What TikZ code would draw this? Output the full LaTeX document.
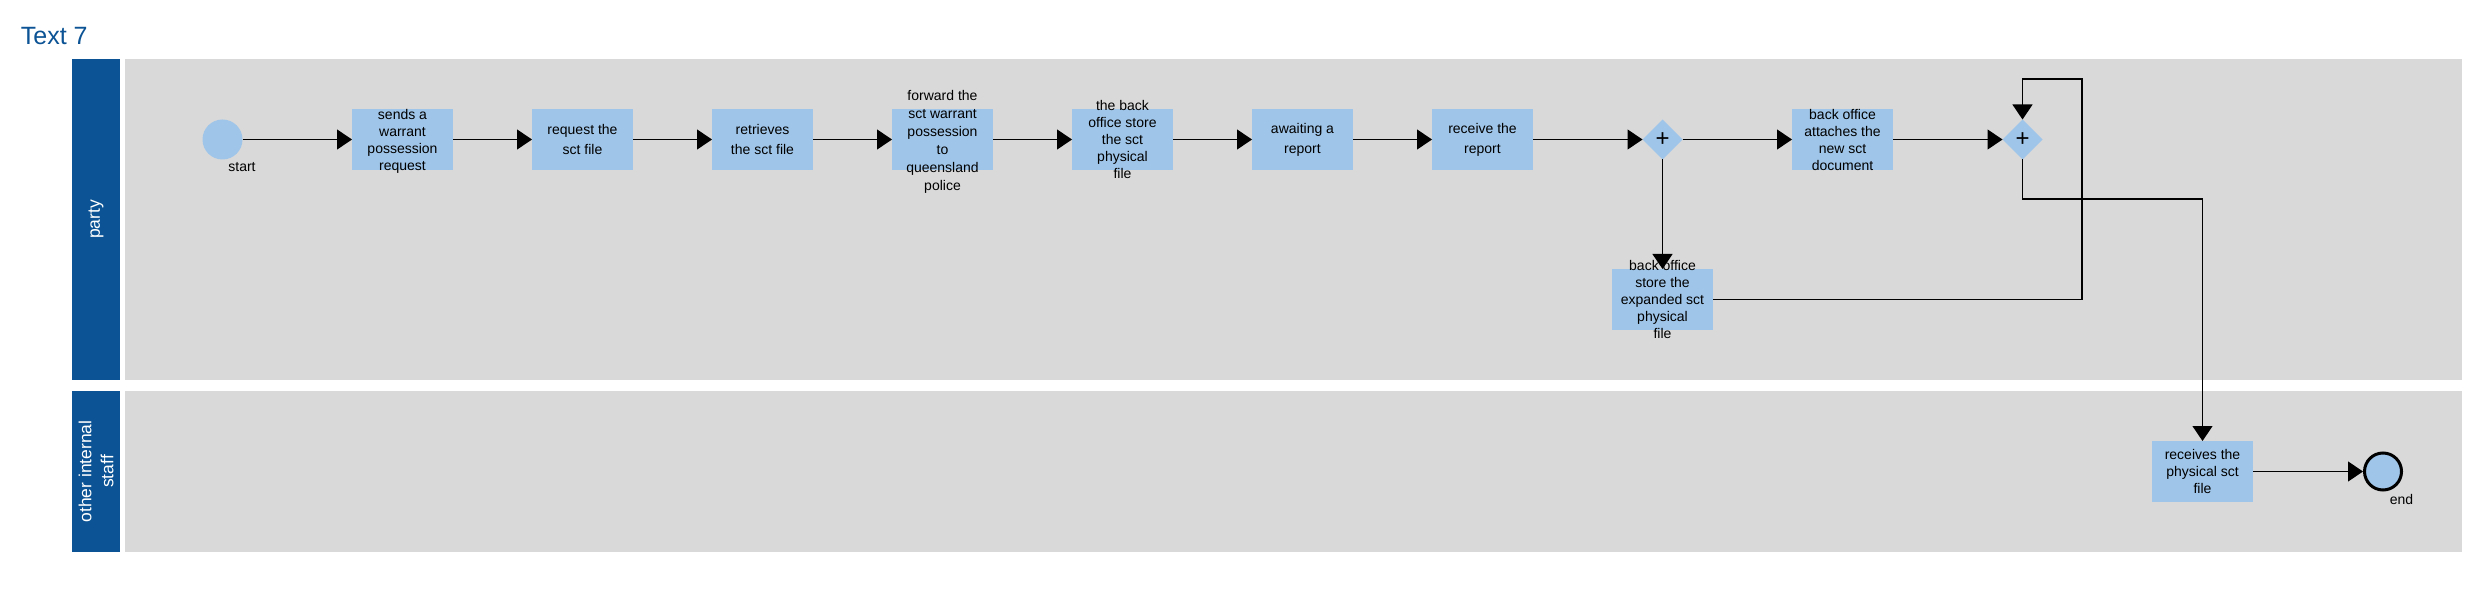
\documentclass[tikz,border=0pt]{standalone}
\usepackage{fontspec}
\setmainfont{Liberation Sans}
\usetikzlibrary{shapes.geometric,arrows.meta}
\definecolor{laneblue}{RGB}{11,83,148}
\definecolor{lanegray}{RGB}{217,217,217}
\definecolor{taskblue}{RGB}{159,197,232}
\tikzset{
  taskbox/.style={fill=taskblue, minimum width=50.5pt, minimum height=30.5pt, inner sep=0pt, outer sep=0pt},
  tasktext/.style={align=center, inner sep=0pt, text=black, font=\fontsize{7}{8.5}\selectfont},
  tasktextwide/.style={tasktext, font=\fontsize{7}{10}\selectfont},
  tasktextmid/.style={tasktext, font=\fontsize{7}{9}\selectfont},
  gw/.style={diamond, fill=taskblue, minimum width=20pt, minimum height=20pt, inner sep=0pt, outer sep=0pt, aspect=1, font=\fontsize{12}{12}\selectfont},
  flow/.style={draw=black, line width=0.55pt, -{Triangle[length=7.5pt,width=10pt]}},
  lanelabel/.style={rotate=90, text=white, align=center, inner sep=0pt, font=\fontsize{8.75}{11}\selectfont},
  evlabel/.style={anchor=base, inner sep=0pt, text=black, font=\fontsize{7}{8.5}\selectfont},
}
\begin{document}
\begin{tikzpicture}[x=0.5pt, y=-0.5pt]
  \useasboundingbox[fill=white] (0,0) rectangle (2479,593);
  % title
  \node[anchor=base west, inner sep=0pt, text=laneblue, font=\fontsize{12.5}{15}\selectfont] (title) at (20.5,44.3) {Text 7};
  % lanes
  \fill[laneblue] (72,59) rectangle (120,380);
  \fill[lanegray] (125,59) rectangle (2462,380);
  \fill[laneblue] (72,391) rectangle (120,552);
  \fill[lanegray] (125,391) rectangle (2462,552);
  \node[lanelabel] (lane1) at (96,219.5) {party};
  \node[lanelabel] (lane2) at (96,471.5) {other internal\\staff};
  % events
  \node[circle, fill=taskblue, minimum size=20pt, inner sep=0pt, outer sep=0pt] (start) at (222.5,139.5) {};
  \node[evlabel] (startl) at (242,172) {start};
  \node[circle, draw=black, line width=1.5pt, fill=taskblue, minimum size=18.5pt, inner sep=0pt] (end) at (2383,471.5) {};
  \node[evlabel] (endl) at (2401.5,504) {end};
  % tasks
  \node[taskbox] (t1) at (402.5,139.5) {};
  \node[tasktext] (t1x) at (402.5,141.5) {sends a\\warrant\\possession\\request};
  \node[taskbox] (t2) at (582.5,139.5) {};
  \node[tasktextwide] (t2x) at (t2) {request the\\sct file};
  \node[taskbox] (t3) at (762.5,139.5) {};
  \node[tasktextwide] (t3x) at (t3) {retrieves\\the sct file};
  \node[taskbox] (t4) at (942.5,139.5) {};
  \node[tasktextmid] (t4x) at (942.5,142) {forward the\\sct warrant\\possession\\to\\queensland\\police};
  \node[taskbox] (t5) at (1122.5,139.5) {};
  \node[tasktext] (t5x) at (t5) {the back\\office store\\the sct\\physical\\file};
  \node[taskbox] (t6) at (1302.5,139.5) {};
  \node[tasktextwide] (t6x) at (t6) {awaiting a\\report};
  \node[taskbox] (t7) at (1482.5,139.5) {};
  \node[tasktextwide] (t7x) at (t7) {receive the\\report};
  \node[gw] (g1) at (1662.5,139.5) {+};
  \node[taskbox] (t8) at (1842.5,139.5) {};
  \node[tasktext] (t8x) at (t8) {back office\\attaches the\\new sct\\document};
  \node[gw] (g2) at (2022.5,139.5) {+};
  \node[taskbox] (t9) at (1662.5,299.5) {};
  \node[tasktext] (t9x) at (t9) {back office\\store the\\expanded sct\\physical\\file};
  \node[taskbox] (t10) at (2202.5,471.5) {};
  \node[tasktext] (t10x) at (t10) {receives the\\physical sct\\file};
  % helper coordinates
  \coordinate (loop) at (2082,79);
  \coordinate (drop) at (2022.5,199);
  % flows
  \draw[flow] (start) -- (t1);
  \draw[flow] (t1) -- (t2);
  \draw[flow] (t2) -- (t3);
  \draw[flow] (t3) -- (t4);
  \draw[flow] (t4) -- (t5);
  \draw[flow] (t5) -- (t6);
  \draw[flow] (t6) -- (t7);
  \draw[flow] (t7) -- (g1);
  \draw[flow] (g1) -- (t8);
  \draw[flow] (t8) -- (g2);
  \draw[flow] (g1.south) -- (t9.north);
  \draw[flow] (t9.east) -| (loop) -| (g2.north);
  \draw[flow] (g2.south) -- (drop) -| (t10.north);
  \draw[flow] (t10) -- (end);
\end{tikzpicture}
\end{document}
